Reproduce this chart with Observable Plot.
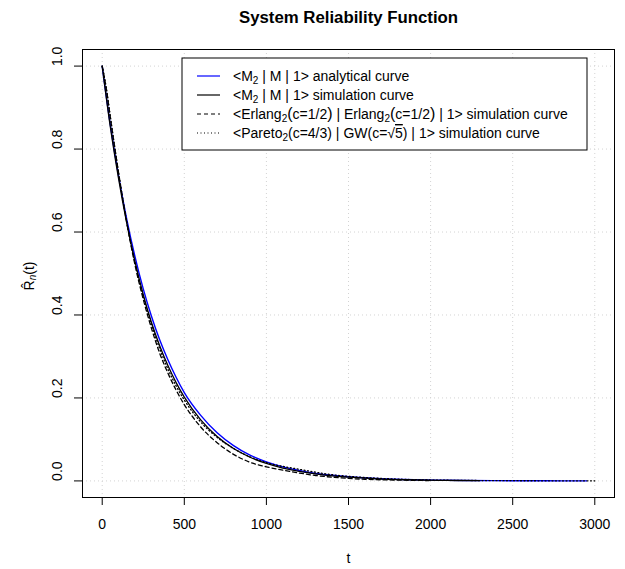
<!DOCTYPE html>
<html><head><meta charset="utf-8">
<script src="https://cdn.jsdelivr.net/npm/d3@7"></script>
<script src="https://cdn.jsdelivr.net/npm/@observablehq/plot@0.6"></script>
<style>body{margin:0;background:#fff;} svg{font-family:"Liberation Sans",Arial,Helvetica,sans-serif;}</style>
</head><body><div id="chart"></div>
<script>
// ---- data ----
const tAnalytical = [0,50,100,150,200,250,300,350,400,450,500,600,700,800,900,1000,1100,1200,1300,1400,1500,1700,1900,2100,2400,2700,2950];
const rAnalytical = [1.0,0.857,0.735,0.63,0.54,0.463,0.397,0.34,0.292,0.25,0.213,0.158,0.116,0.085,0.062,0.046,0.034,0.025,0.018,0.0135,0.0099,0.0053,0.0029,0.0016,0.0006,0.0002,0.0001];

const tM2Sim = [0,50,100,150,200,250,300,350,400,450,500,600,700,800,900,1000,1100,1200,1300,1400,1500,1700,1900,2100,2300];
const rM2Sim = [1.0,0.852,0.728,0.62,0.528,0.449,0.382,0.326,0.278,0.237,0.202,0.147,0.107,0.078,0.057,0.042,0.031,0.023,0.017,0.012,0.009,0.0045,0.0025,0.0012,0.0005];

const tErlangSim = [0,25,50,100,150,200,250,300,350,400,450,500,600,700,800,900,1000,1100,1200,1300,1400,1500,1600,1800,2000];
const rErlangSim = [1.0,0.945,0.875,0.742,0.622,0.52,0.438,0.368,0.308,0.26,0.219,0.184,0.13,0.092,0.064,0.045,0.034,0.026,0.019,0.013,0.009,0.006,0.004,0.002,0.0008];

const tParetoSim = [0,25,50,100,150,200,250,300,350,400,450,500,600,700,800,900,1000,1100,1200,1300,1400,1500,1700,1900,2200,2500,2800,3000];
const rParetoSim = [1.0,0.947,0.877,0.742,0.623,0.525,0.444,0.377,0.319,0.27,0.229,0.195,0.142,0.105,0.078,0.058,0.044,0.035,0.028,0.021,0.015,0.011,0.006,0.003,0.0012,0.0005,0.0002,0.0001];

const xTicks = [0,500,1000,1500,2000,2500,3000];
const xTickLabels = ["0","500","1000","1500","2000","2500","3000"];
const yTicks = [0,0.2,0.4,0.6,0.8,1.0];
const yTickLabels = ["0.0","0.2","0.4","0.6","0.8","1.0"];

const titleText = "System Reliability Function";
const xLabel = "t";

// legend labels as segments: [text, kind] kind: "n" normal, "s" subscript, "o" overline, "b" big paren
const legendLabels = [
  [["<M","n"],["2","s"],[" | M | 1> analytical curve","n"]],
  [["<M","n"],["2","s"],[" | M | 1> simulation curve","n"]],
  [["<Erlang","n"],["2","s"],["(","b"],["c=1/2","n"],[")","b"],[" | Erlang","n"],["2","s"],["(","b"],["c=1/2","n"],[")","b"],[" | 1> simulation curve","n"]],
  [["<Pareto","n"],["2","s"],["(c=4/3) | GW(c=\u221A","n"],["5","o"],[") | 1> simulation curve","n"]]
];
const legendColors = ["#0000ff","#000000","#000000","#000000"];
const legendDash = [null,null,"4,3","1,2.5"];

// ---- build tables ----
const mk = (ts, rs, name) => ts.map((t,i)=>({series:name, t, r:rs[i]}));
const analytical = mk(tAnalytical, rAnalytical, "analytical");
const m2 = mk(tM2Sim, rM2Sim, "m2");
const erl = mk(tErlangSim, rErlangSim, "erlang");
const par = mk(tParetoSim, rParetoSim, "pareto");

const gridStyle = {stroke:"#d3d3d3", strokeOpacity:1, strokeDasharray:"1,3", strokeWidth:1};
const FS = 14;

const plot = Plot.plot({
  width:625, height:569,
  marginLeft:82, marginRight:11, marginTop:49, marginBottom:72,
  style:{fontFamily:"Liberation Sans, Arial, Helvetica, sans-serif", fontSize:FS+"px", background:"white", color:"black"},
  x:{domain:[-120,3120]},
  y:{domain:[-0.04,1.04]},
  marks:[
    Plot.gridX(xTicks, gridStyle),
    Plot.gridY(yTicks, gridStyle),
    Plot.line(analytical, {x:"t", y:"r", stroke:"#0000ff", strokeWidth:1.4, curve:"monotone-x"}),
    Plot.line(m2, {x:"t", y:"r", stroke:"#000000", strokeWidth:1.3, curve:"monotone-x"}),
    Plot.line(erl, {x:"t", y:"r", stroke:"#000000", strokeWidth:1.3, strokeDasharray:"4,3", curve:"monotone-x"}),
    Plot.line(par, {x:"t", y:"r", stroke:"#000000", strokeWidth:1.3, strokeDasharray:"1,2.5", curve:"monotone-x"}),
    Plot.frame({stroke:"black", strokeWidth:1}),
    Plot.axisX(xTicks, {tickSize:8, tickPadding:14, fontSize:FS, label:null, stroke:"black", tickFormat:(d)=>xTickLabels[xTicks.indexOf(d)]}),
    Plot.axisY(yTicks, {tickSize:8, tickFormat:()=>"", label:null, stroke:"black"}),
    Plot.text(yTicks, {y:d=>d, text:(d,i)=>yTickLabels[i], frameAnchor:"left", dx:-25, rotate:-90, fontSize:FS, fill:"black"}),
    Plot.text([titleText], {frameAnchor:"top", dy:-32, fontWeight:"bold", fontSize:16.8, lineAnchor:"middle", fill:"black"}),
    Plot.text([xLabel], {frameAnchor:"bottom", dy:61, fontSize:FS, lineAnchor:"middle", fill:"black"})
  ]
});

const svg = d3.select(plot);

// y-axis label R-hat_n(t)
const yl = svg.append("text")
  .attr("transform","translate(30,276) rotate(-90)")
  .attr("text-anchor","middle").attr("dominant-baseline","middle")
  .attr("font-size",FS).attr("fill","black");
yl.append("tspan").text("R\u0302");
yl.append("tspan").attr("dy",3).attr("font-size",10).attr("font-style","italic").text("n");
yl.append("tspan").attr("dy",-3).text("(t)");

// legend box
const lg = svg.append("g").attr("transform","translate(182,58)");
lg.append("rect").attr("x",0).attr("y",0).attr("width",405).attr("height",92)
  .attr("fill","white").attr("stroke","black").attr("stroke-width",1);
legendLabels.forEach((segs,i)=>{
  const cy = 18 + i*19;
  const ln = lg.append("line").attr("x1",15).attr("x2",38).attr("y1",cy).attr("y2",cy)
    .attr("stroke",legendColors[i]).attr("stroke-width",1.2);
  if (legendDash[i]) ln.attr("stroke-dasharray",legendDash[i]);
  const tx = lg.append("text").attr("x",51).attr("y",cy+5).attr("font-size",FS)
    .attr("fill","black").attr("text-anchor","start");
  let shifted = 0;
  segs.forEach(([s,k])=>{
    const sp = tx.append("tspan").text(s);
    if (k==="s") { sp.attr("font-size",10).attr("dy",3); shifted = 3; }
    else {
      if (shifted) { sp.attr("dy",-shifted); shifted = 0; }
      if (k==="b") sp.attr("font-size",16);
      if (k==="o") sp.attr("text-decoration","overline");
    }
  });
});

document.getElementById("chart").appendChild(plot);
</script>
</body></html>
